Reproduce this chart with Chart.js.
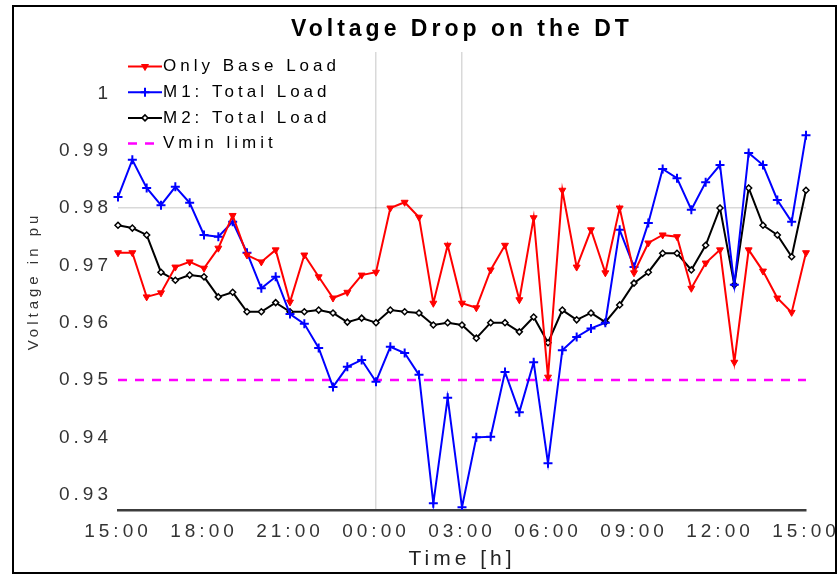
<!DOCTYPE html>
<html>
<head>
<meta charset="utf-8">
<title>Voltage Drop on the DT</title>
<script src="https://cdn.jsdelivr.net/npm/chart.js@4.4.1/dist/chart.umd.min.js"></script>
<style>
  html, body { margin: 0; padding: 0; background: #fff; }
  #wrap { position: relative; width: 838px; height: 575px; }
</style>
</head>
<body>
<div id="wrap"><canvas id="voltageChart"></canvas></div>
<script>
// half-hourly samples over one day, 15:00 -> 15:00
const times = [
  '15:00', '15:30', '16:00', '16:30', '17:00', '17:30', '18:00', '18:30', '19:00', '19:30',
  '20:00', '20:30', '21:00', '21:30', '22:00', '22:30', '23:00', '23:30', '00:00', '00:30',
  '01:00', '01:30', '02:00', '02:30', '03:00', '03:30', '04:00', '04:30', '05:00', '05:30',
  '06:00', '06:30', '07:00', '07:30', '08:00', '08:30', '09:00', '09:30', '10:00', '10:30',
  '11:00', '11:30', '12:00', '12:30', '13:00', '13:30', '14:00', '14:30', '15:00',
];

const baseLoad = [
  0.9722, 0.9722, 0.9645, 0.9652, 0.9697, 0.9706, 0.9695, 0.9730, 0.9787, 0.9718,
  0.9706, 0.9727, 0.9636, 0.9718, 0.9680, 0.9643, 0.9653, 0.9683, 0.9688, 0.9800,
  0.9810, 0.9784, 0.9634, 0.9735, 0.9634, 0.9626, 0.9692, 0.9735, 0.9640, 0.9783,
  0.9505, 0.9831, 0.9697, 0.9762, 0.9687, 0.9800, 0.9687, 0.9739, 0.9753, 0.9750,
  0.9660, 0.9704, 0.9727, 0.9531, 0.9727, 0.9690, 0.9643, 0.9618, 0.9722,
];

const m1Total = [
  0.9819, 0.9884, 0.9835, 0.9805, 0.9837, 0.9809, 0.9753, 0.9750, 0.9776, 0.9722,
  0.9660, 0.9680, 0.9615, 0.9598, 0.9556, 0.9488, 0.9523, 0.9535, 0.9497, 0.9558,
  0.9547, 0.9509, 0.9285, 0.9469, 0.9278, 0.9400, 0.9401, 0.9514, 0.9444, 0.9531,
  0.9355, 0.9552, 0.9575, 0.9590, 0.9600, 0.9762, 0.9697, 0.9774, 0.9868, 0.9852,
  0.9797, 0.9845, 0.9875, 0.9666, 0.9896, 0.9875, 0.9814, 0.9776, 0.9927,
];

const m2Total = [
  0.9770, 0.9765, 0.9753, 0.9688, 0.9674, 0.9683, 0.9680, 0.9645, 0.9653, 0.9619,
  0.9619, 0.9635, 0.9619, 0.9619, 0.9622, 0.9617, 0.9601, 0.9608, 0.9600, 0.9622,
  0.9619, 0.9617, 0.9596, 0.9600, 0.9596, 0.9573, 0.9600, 0.9600, 0.9584, 0.9610,
  0.9565, 0.9622, 0.9605, 0.9617, 0.9601, 0.9631, 0.9669, 0.9688, 0.9721, 0.9721,
  0.9692, 0.9735, 0.9800, 0.9666, 0.9835, 0.9770, 0.9753, 0.9715, 0.9831,
];

const VMIN = 0.95;
const yTicks = [0.93, 0.94, 0.95, 0.96, 0.97, 0.98, 0.99, 1.0];
const yGridAt = [0.98];
const xGridAt = ['00:00', '03:00'];

const FONT = "'Liberation Sans', Arial, sans-serif";
const LETTER_SPACING = '4px';

// wide letter spacing on every text the chart draws
const spacedText = {
  id: 'spacedText',
  beforeLayout(chart) { chart.ctx.letterSpacing = LETTER_SPACING; },
  beforeDraw(chart) { chart.ctx.letterSpacing = LETTER_SPACING; },
};

// thin black frame round the whole figure
const frame = {
  id: 'frame',
  afterDraw(chart) {
    const { ctx } = chart;
    ctx.save();
    ctx.strokeStyle = '#000';
    ctx.lineWidth = 2;
    ctx.strokeRect(13, 6, 823, 567);
    ctx.restore();
  },
};

// legend in the upper-left corner of the plot, line + marker + label
const insideLegend = {
  id: 'insideLegend',
  afterDraw(chart) {
    const { ctx, chartArea } = chart;
    ctx.save();
    ctx.font = `17px ${FONT}`;
    ctx.textBaseline = 'middle';
    ctx.textAlign = 'left';
    chart.data.datasets.forEach((ds, i) => {
      const y = chartArea.top + 14.5 + i * 25.7;
      const x0 = chartArea.left + 10;
      ctx.strokeStyle = ds.borderColor;
      ctx.lineWidth = ds.borderWidth;
      ctx.setLineDash(ds.borderDash || []);
      ctx.beginPath();
      ctx.moveTo(x0, y);
      ctx.lineTo(x0 + 34, y);
      ctx.stroke();
      ctx.setLineDash([]);
      if (ds.pointRadius > 0) {
        ctx.fillStyle = ds.pointBackgroundColor;
        ctx.strokeStyle = ds.pointBorderColor;
        ctx.lineWidth = ds.pointBorderWidth;
        Chart.helpers.drawPoint(ctx, {
          pointStyle: ds.pointStyle,
          rotation: ds.pointRotation || 0,
          radius: ds.pointRadius,
          borderWidth: ds.pointBorderWidth,
        }, x0 + 17, y);
      }
      ctx.fillStyle = '#000';
      ctx.fillText(ds.label, x0 + 35, y);
    });
    ctx.restore();
  },
};

new Chart(document.getElementById('voltageChart'), {
  type: 'line',
  data: {
    labels: times,
    datasets: [
      {
        label: 'Only Base Load',
        data: baseLoad,
        borderColor: '#ff0000',
        backgroundColor: '#ff0000',
        borderWidth: 2,
        pointStyle: 'triangle',
        pointRotation: 180,
        pointRadius: 4,
        pointBackgroundColor: '#ff0000',
        pointBorderColor: '#ff0000',
        pointBorderWidth: 1,
      },
      {
        label: 'M1: Total Load',
        data: m1Total,
        borderColor: '#0000ff',
        backgroundColor: '#0000ff',
        borderWidth: 2,
        pointStyle: 'cross',
        pointRadius: 4.5,
        pointBackgroundColor: '#0000ff',
        pointBorderColor: '#0000ff',
        pointBorderWidth: 2,
      },
      {
        label: 'M2: Total Load',
        data: m2Total,
        borderColor: '#000000',
        backgroundColor: '#000000',
        borderWidth: 2,
        pointStyle: 'rectRot',
        pointRadius: 3,
        pointBackgroundColor: '#ffffff',
        pointBorderColor: '#000000',
        pointBorderWidth: 1.5,
      },
      {
        label: 'Vmin limit',
        data: times.map(() => VMIN),
        borderColor: '#ff00ff',
        backgroundColor: '#ff00ff',
        borderWidth: 2.5,
        borderDash: [9, 8],
        pointRadius: 0,
      },
    ],
  },
  options: {
    responsive: true,
    maintainAspectRatio: false,
    animation: false,
    events: [],
    elements: { line: { tension: 0 } },
    layout: { padding: { left: 13, right: 32, top: 0, bottom: 0 } },
    plugins: {
      legend: { display: false },
      tooltip: { enabled: false },
      title: {
        display: true,
        text: 'Voltage Drop on the DT',
        fullSize: false,
        color: '#000',
        font: { family: FONT, size: 23, weight: 'bold' },
        padding: { top: 16, bottom: 8.4 },
      },
    },
    scales: {
      x: {
        type: 'category',
        offset: false,
        border: { display: true, color: '#3c3c3c', width: 2.5 },
        grid: {
          drawTicks: false,
          lineWidth: 1.5,
          color: ctx => xGridAt.includes(times[ctx.index]) ? 'rgba(0,0,0,0.15)' : 'rgba(0,0,0,0)',
        },
        ticks: {
          autoSkip: false,
          maxRotation: 0,
          padding: 10,
          color: '#333',
          font: { family: FONT, size: 19 },
          callback: (v, i) => (i % 6 === 0 ? times[i] : ''),
        },
        title: {
          display: true,
          text: 'Time [h]',
          color: '#222',
          font: { family: FONT, size: 21 },
          padding: { top: 0, bottom: 3 },
        },
        afterFit: s => {
          s.height = 65;
          s.paddingLeft = 0;
          s.paddingRight = 0;
        },
      },
      y: {
        min: 0.92733,
        max: 1.00721,
        afterBuildTicks: s => { s.ticks = yTicks.map(v => ({ value: v })); },
        border: { display: false },
        grid: {
          drawTicks: false,
          lineWidth: 1.5,
          color: ctx => yGridAt.some(g => Math.abs(ctx.tick.value - g) < 1e-6) ? 'rgba(0,0,0,0.15)' : 'rgba(0,0,0,0)',
        },
        ticks: {
          padding: 6,
          color: '#333',
          font: { family: FONT, size: 19 },
          callback: v => String(+v.toFixed(2)),
        },
        title: {
          display: true,
          text: 'Voltage in pu',
          color: '#333',
          font: { family: FONT, size: 15 },
          padding: { top: 12, bottom: 0 },
        },
        afterFit: s => {
          s.width = 105;
          s.paddingTop = 0;
          s.paddingBottom = 0;
        },
      },
    },
  },
  plugins: [spacedText, insideLegend, frame],
});
</script>
</body>
</html>
